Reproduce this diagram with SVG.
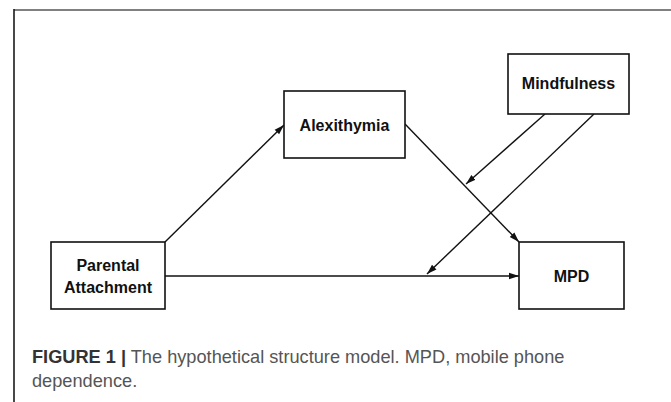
<svg xmlns="http://www.w3.org/2000/svg" width="671" height="402" viewBox="0 0 671 402">
<style>
.box{fill:#fff;stroke:#111;stroke-width:1.6}
.lbl{font-family:"Liberation Sans",Arial,sans-serif;font-weight:bold;font-size:16px;fill:#111;text-anchor:middle}
.edge{stroke:#111;stroke-width:1.4;fill:none;marker-end:url(#ah)}
.cap{font-family:"Liberation Sans",Arial,sans-serif;font-size:18.2px;fill:#555}
.capb{font-weight:bold;fill:#333}
</style>
<defs>
<marker id="ah" markerUnits="userSpaceOnUse" markerWidth="10" markerHeight="8" refX="10" refY="4" orient="auto">
<path d="M0,0.8 L10,4 L0,7.2 z" fill="#111"/>
</marker>
</defs>
<rect width="671" height="402" fill="#fff"/>
<line x1="14" y1="10" x2="671" y2="10" stroke="#808080" stroke-width="2"/>
<line x1="14" y1="9" x2="14" y2="402" stroke="#1a1a1a" stroke-width="1.6"/>
<g id="connectors">
<line class="edge" x1="165" y1="242" x2="284" y2="125"/>
<line class="edge" x1="405" y1="124" x2="519" y2="242"/>
<line class="edge" x1="165" y1="276" x2="519" y2="276"/>
<line class="edge" x1="545" y1="114" x2="466" y2="184"/>
<line class="edge" x1="594" y1="114" x2="427" y2="274"/>
</g>
<g id="parental">
<rect class="box" x="51" y="242" width="114" height="67"/>
<text class="lbl" x="108" y="271">Parental</text>
<text class="lbl" x="108" y="293">Attachment</text>
</g>
<g id="alexithymia">
<rect class="box" x="284" y="91" width="121" height="67"/>
<text class="lbl" x="344.5" y="131">Alexithymia</text>
</g>
<g id="mindfulness">
<rect class="box" x="508" y="54" width="121" height="60"/>
<text class="lbl" x="568.5" y="89">Mindfulness</text>
</g>
<g id="mpd">
<rect class="box" x="519" y="242" width="105" height="67"/>
<text class="lbl" x="571.5" y="282">MPD</text>
</g>
<g id="caption">
<text class="cap" x="32" y="363"><tspan class="capb">FIGURE 1 |</tspan> The hypothetical structure model. MPD, mobile phone</text>
<text class="cap" x="32" y="387">dependence.</text>
</g>
</svg>
